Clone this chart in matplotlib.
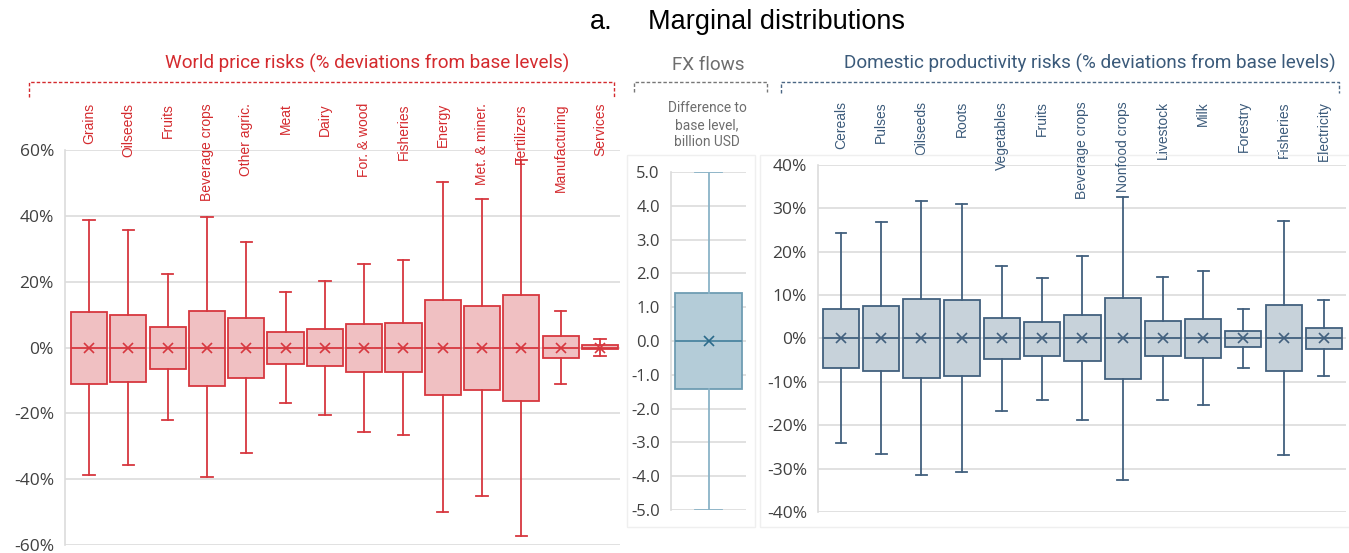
import matplotlib.pyplot as plt
from matplotlib.lines import Line2D
from matplotlib.patches import Rectangle
from matplotlib.ticker import FuncFormatter, MultipleLocator
import matplotlib.transforms as mtrans

# world price risks (% deviation from base)
price_cats = ["Grains", "Oilseeds", "Fruits", "Beverage crops", "Other agric.", "Meat", "Dairy",
              "For. & wood", "Fisheries", "Energy", "Met. & miner.", "Fertilizers",
              "Manufacturing", "Services"]
price_hi = [38.7, 35.8, 22.2, 39.5, 31.9, 16.9, 20.1, 25.5, 26.6, 50.2, 45.2, 56.9, 11.2, 2.5]
price_q3 = [10.8, 10.0, 6.1, 11.2, 8.9, 4.7, 5.7, 7.2, 7.5, 14.3, 12.6, 16.1, 3.4, 0.8]
price_q1 = [-11.1, -10.4, -6.5, -11.6, -9.3, -4.9, -5.7, -7.4, -7.4, -14.3, -12.8, -16.3, -3.1, -0.6]
price_lo = [-38.6, -35.7, -22.1, -39.4, -31.9, -16.8, -20.4, -25.8, -26.5, -50.0, -45.1, -57.3, -11.1, -2.5]

# FX flows (billion USD)
fx_hi = [5.0]
fx_q3 = [1.41]
fx_q1 = [-1.41]
fx_lo = [-5.0]

# domestic productivity risks (% deviation from base)
prod_cats = ["Cereals", "Pulses", "Oilseeds", "Roots", "Vegetables", "Fruits", "Beverage crops",
             "Nonfood crops", "Livestock", "Milk", "Forestry", "Fisheries", "Electricity"]
prod_hi = [24.3, 26.9, 31.7, 31.0, 16.8, 14.0, 19.1, 32.7, 14.2, 15.5, 6.8, 27.0, 8.8]
prod_q3 = [6.8, 7.5, 9.1, 8.8, 4.7, 3.9, 5.5, 9.4, 4.1, 4.5, 1.8, 7.8, 2.5]
prod_q1 = [-6.9, -7.6, -9.0, -8.7, -4.8, -4.1, -5.3, -9.3, -4.1, -4.4, -2.0, -7.6, -2.5]
prod_lo = [-24.1, -26.7, -31.5, -30.8, -16.7, -14.1, -18.9, -32.6, -14.1, -15.4, -6.9, -26.9, -8.7]

W, H = 1349, 553
RED = '#d7373f'
BLUE = '#42607e'


def make_stats(lo, q1, q3, hi):
    return [dict(med=0.0, mean=0.0, q1=a, q3=b, whislo=c, whishi=d, fliers=[])
            for c, a, b, d in zip(lo, q1, q3, hi)]


def px_axes(fig, x0, y0, x1, y1):
    # pixel box (top-left origin) -> figure axes
    return fig.add_axes([x0 / W, 1 - y1 / H, (x1 - x0) / W, (y1 - y0) / H])


def style_axes(ax, fmt, step, fs=12.5):
    ax.yaxis.set_major_locator(MultipleLocator(step))
    ax.yaxis.set_major_formatter(FuncFormatter(fmt))
    ax.grid(axis='y', color='#dcdcdc', lw=1.2)
    ax.set_axisbelow(True)
    for s in ['top', 'right', 'bottom']:
        ax.spines[s].set_visible(False)
    ax.spines['left'].set_color('#dcdcdc')
    ax.spines['left'].set_linewidth(1.2)
    ax.tick_params(axis='y', length=0, pad=8, labelsize=fs, labelcolor='#404040')
    ax.set_xticks([])
    for lab in ax.get_yticklabels():
        lab.set_fontfamily('Open Sans')


def draw_boxes(ax, stats, pos, width, cap, face, edge, whisk, med, mk):
    ax.bxp(stats, positions=pos, widths=width, capwidths=cap, showmeans=True,
           patch_artist=True, showfliers=False,
           boxprops=dict(facecolor=face, edgecolor=edge, linewidth=1.3),
           medianprops=dict(color=med, linewidth=1.3),
           whiskerprops=dict(color=whisk, linewidth=1.3),
           capprops=dict(color=whisk, linewidth=1.3),
           meanprops=dict(marker='x', markeredgecolor=mk, markersize=7, markeredgewidth=1.2))


fig = plt.figure(figsize=(W / 100, H / 100), dpi=100)

# faint chart-area frames
for x0, y0, x1, y1 in [(627, 155, 755, 527), (760, 155, 1360, 527)]:
    fig.patches.append(Rectangle((x0 / W, 1 - y1 / H), (x1 - x0) / W, (y1 - y0) / H,
                                 transform=fig.transFigure, fill=False, ec='#efefef', lw=1))

# left panel
ax1 = px_axes(fig, 65, 150, 620, 545)
pos1 = list(range(len(price_cats)))
draw_boxes(ax1, make_stats(price_lo, price_q1, price_q3, price_hi), pos1, 0.92, 0.29,
           '#f0c0c2', RED, RED, RED, RED)
ax1.set_ylim(-60, 60)
ax1.set_xlim(-0.61, 13.51)
style_axes(ax1, lambda v, p: f"{v:.0f}%", 20)

# middle panel
ax2 = px_axes(fig, 671, 172, 746, 510)
draw_boxes(ax2, make_stats(fx_lo, fx_q1, fx_q3, fx_hi), [0], 0.89, 0.35,
           '#b4ccd8', '#6f9db3', '#8ab3c7', '#4a84a0', '#2a6a8a')
ax2.set_ylim(-5, 5)
ax2.set_xlim(-0.5, 0.5)
style_axes(ax2, lambda v, p: f"{v:.1f}", 1, fs=12)

# right panel
ax3 = px_axes(fig, 818, 165, 1346, 512)
pos3 = list(range(len(prod_cats)))
draw_boxes(ax3, make_stats(prod_lo, prod_q1, prod_q3, prod_hi), pos3, 0.9, 0.27,
           '#c7d2da', BLUE, BLUE, BLUE, BLUE)
ax3.set_ylim(-40, 40)
ax3.set_xlim(-0.57, 12.55)
style_axes(ax3, lambda v, p: f"{v:.0f}%", 10)

# category labels above the panels, top aligned
tr1 = mtrans.blended_transform_factory(ax1.transData, fig.transFigure)
for i, c in enumerate(price_cats):
    ax1.text(i, 1 - 103 / H, c, transform=tr1, rotation=90, ha='center', va='top',
             fontsize=10, color='#d42a2e', family='Liberation Sans', clip_on=False)
tr3 = mtrans.blended_transform_factory(ax3.transData, fig.transFigure)
for i, c in enumerate(prod_cats):
    ax3.text(i, 1 - 101 / H, c, transform=tr3, rotation=90, ha='center', va='top',
             fontsize=10, color='#3b5a7a', family='Liberation Sans', clip_on=False)

# group titles and dashed brackets
def bracket(x0, x1, y, y_end, color):
    xs = [x0 / W, x0 / W, x1 / W, x1 / W]
    ys = [1 - y_end / H, 1 - y / H, 1 - y / H, 1 - y_end / H]
    fig.add_artist(Line2D(xs, ys, transform=fig.transFigure, color=color, lw=1,
                          linestyle=(0, (2.5, 1.5))))


bracket(29, 614, 82, 97, '#d42a2e')
bracket(634, 767, 82, 92, '#777777')
bracket(781, 1339, 82, 93, '#4a6684')

fig.text(367 / W, 1 - 63 / H, "World price risks (% deviations from base levels)",
         ha='center', va='center', fontsize=13.6, color='#d42a2e', family='Roboto')
fig.text(708 / W, 1 - 65 / H, "FX flows", ha='center', va='center', fontsize=13.6,
         color='#6e6e6e', family='Roboto')
fig.text(1090 / W, 1 - 63 / H, "Domestic productivity risks (% deviations from base levels)",
         ha='center', va='center', fontsize=13.6, color='#3b5a7a', family='Roboto')
fig.text(707 / W, 1 - 125 / H, "Difference to\nbase level,\nbillion USD", ha='center',
         va='center', fontsize=9.9, color='#6e6e6e', family='Roboto', linespacing=1.3)

fig.text(590 / W, 1 - 22 / H, "a.", ha='left', va='center', fontsize=19.5,
         color='black', family='Liberation Sans')
fig.text(648 / W, 1 - 22 / H, "Marginal distributions", ha='left', va='center',
         fontsize=19.5, color='black', family='Liberation Sans')

fig.savefig("out.png", dpi=100)
